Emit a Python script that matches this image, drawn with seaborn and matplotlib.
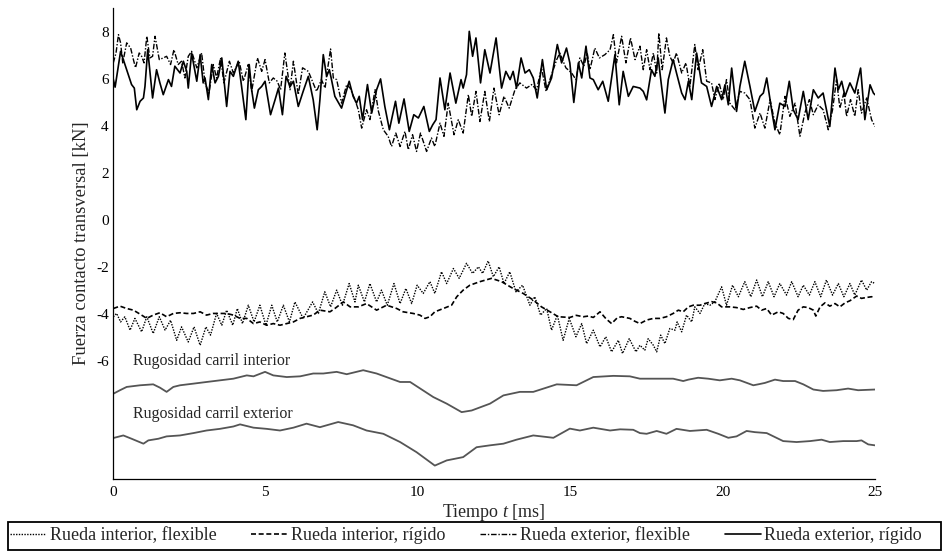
import matplotlib
matplotlib.use("Agg")
import matplotlib.pyplot as plt
from matplotlib.lines import Line2D
from matplotlib.patches import Rectangle
import seaborn as sns

# Each series is a list of (time [ms], force [kN]) samples.

# Outer wheel, rigid model (solid)
ext_rig = [
    (0.00, 6.03), (0.07, 5.64), (0.25, 7.16), (0.45, 6.38), (0.61, 5.75), (0.70, 5.60), (0.78, 4.68),
    (0.89, 5.04), (1.00, 5.18), (1.05, 5.67), (1.14, 7.23), (1.30, 5.18), (1.43, 6.38), (1.54, 5.82),
    (1.65, 5.32), (1.82, 5.96), (1.92, 5.67), (2.03, 6.53), (2.20, 6.24), (2.31, 6.74), (2.42, 6.31),
    (2.47, 5.60), (2.58, 7.09), (2.75, 5.89), (2.86, 7.02), (2.96, 5.82), (3.02, 6.03), (3.13, 5.11),
    (3.24, 6.60), (3.35, 5.82), (3.46, 6.10), (3.57, 6.88), (3.73, 4.82), (3.84, 6.31), (3.95, 6.10),
    (4.11, 6.74), (4.22, 5.67), (4.36, 4.26), (4.47, 6.60), (4.55, 5.53), (4.64, 4.75), (4.77, 5.53),
    (4.88, 5.67), (4.99, 5.89), (5.17, 4.47), (5.32, 5.11), (5.43, 5.60), (5.56, 4.47), (5.68, 6.10),
    (5.81, 5.67), (5.92, 5.89), (6.08, 4.82), (6.24, 5.46), (6.41, 6.10), (6.57, 5.10), (6.70, 3.83),
    (6.79, 5.11), (6.90, 7.02), (7.01, 6.10), (7.10, 6.38), (7.17, 5.96), (7.28, 5.25), (7.50, 4.75),
    (7.61, 5.25), (7.75, 5.89), (7.88, 5.25), (7.99, 4.96), (8.08, 5.25), (8.19, 4.26), (8.35, 5.75),
    (8.49, 4.54), (8.65, 5.53), (8.78, 5.99), (8.92, 4.82), (9.07, 3.83), (9.27, 5.04), (9.38, 4.11),
    (9.55, 5.14), (9.72, 3.76), (9.87, 4.47), (10.02, 4.33), (10.20, 4.82), (10.38, 3.76), (10.49, 4.04),
    (10.60, 4.26), (10.73, 6.03), (10.89, 4.68), (11.06, 6.24), (11.25, 4.96), (11.42, 5.96),
    (11.49, 5.60), (11.60, 6.17), (11.69, 8.01), (11.80, 6.95), (11.91, 7.73), (12.06, 5.82),
    (12.20, 7.23), (12.37, 6.24), (12.57, 7.73), (12.75, 5.60), (12.89, 6.31), (13.03, 5.96),
    (13.13, 6.31), (13.24, 5.60), (13.39, 6.88), (13.52, 6.24), (13.66, 6.38), (13.79, 6.03),
    (13.92, 5.18), (14.09, 6.81), (14.23, 5.53), (14.39, 6.03), (14.58, 7.45), (14.72, 6.67),
    (14.88, 7.30), (14.99, 6.67), (15.12, 4.99), (15.27, 6.67), (15.38, 6.03), (15.52, 7.38),
    (15.65, 6.03), (15.76, 5.96), (15.92, 5.53), (16.07, 5.89), (16.25, 5.04), (16.47, 7.02),
    (16.61, 4.89), (16.74, 6.31), (16.91, 5.25), (17.07, 5.67), (17.29, 5.60), (17.40, 5.46),
    (17.51, 5.10), (17.67, 6.38), (17.78, 6.10), (17.89, 6.88), (18.00, 5.67), (18.11, 4.54),
    (18.22, 5.96), (18.38, 6.81), (18.49, 6.24), (18.66, 5.39), (18.77, 5.11), (18.88, 5.89),
    (18.99, 5.11), (19.15, 7.09), (19.31, 5.82), (19.48, 5.67), (19.64, 4.82), (19.81, 5.67),
    (19.97, 5.11), (20.08, 5.74), (20.19, 4.89), (20.30, 6.45), (20.46, 4.61), (20.57, 5.67),
    (20.73, 6.74), (20.90, 5.67), (21.06, 4.61), (21.23, 5.25), (21.34, 5.39), (21.45, 6.03),
    (21.61, 4.68), (21.72, 3.83), (21.88, 4.96), (22.05, 4.82), (22.19, 5.89), (22.32, 4.68),
    (22.48, 4.26), (22.65, 5.46), (22.81, 4.26), (22.98, 5.53), (23.14, 5.18), (23.30, 5.39),
    (23.41, 4.68), (23.52, 3.97), (23.69, 6.45), (23.80, 5.53), (23.91, 5.89), (24.02, 5.25),
    (24.18, 5.82), (24.34, 5.39), (24.53, 6.45), (24.67, 4.26), (24.84, 5.74), (24.95, 5.39),
    (25.00, 5.32),
]

# Outer wheel, flexible model (dash-dot)
ext_flex = [
    (0.01, 6.67), (0.10, 7.09), (0.18, 7.87), (0.25, 7.52), (0.32, 6.67), (0.45, 7.52), (0.58, 7.30),
    (0.67, 6.81), (0.74, 6.46), (0.86, 7.09), (0.94, 6.95), (1.02, 6.67), (1.11, 7.80), (1.21, 6.88),
    (1.30, 6.95), (1.38, 7.80), (1.52, 6.81), (1.65, 6.88), (1.76, 6.95), (1.89, 6.60), (2.00, 7.23),
    (2.14, 6.60), (2.25, 6.74), (2.36, 6.03), (2.47, 6.95), (2.58, 7.16), (2.75, 6.46), (2.91, 7.09),
    (3.02, 5.82), (3.15, 5.39), (3.29, 6.60), (3.40, 6.03), (3.53, 6.88), (3.64, 5.82), (3.82, 6.74),
    (3.95, 6.24), (4.14, 6.74), (4.28, 5.89), (4.44, 6.60), (4.55, 5.46), (4.74, 6.88), (4.88, 6.31),
    (4.99, 6.81), (5.13, 5.82), (5.26, 6.03), (5.39, 5.89), (5.50, 5.53), (5.64, 7.09), (5.81, 5.53),
    (5.92, 6.74), (6.08, 5.32), (6.22, 6.46), (6.41, 6.31), (6.68, 5.46), (6.84, 5.96), (6.96, 5.60),
    (7.03, 6.31), (7.14, 7.26), (7.23, 6.03), (7.34, 5.96), (7.50, 4.96), (7.67, 5.75), (7.78, 5.60),
    (7.94, 5.11), (8.05, 4.68), (8.16, 3.90), (8.32, 4.68), (8.43, 4.26), (8.60, 5.53), (8.71, 4.61),
    (8.87, 3.83), (9.03, 3.55), (9.14, 3.12), (9.28, 3.69), (9.42, 3.12), (9.58, 3.76), (9.69, 2.98),
    (9.83, 3.62), (9.96, 2.91), (10.09, 3.69), (10.29, 2.91), (10.45, 3.48), (10.56, 3.12),
    (10.73, 4.11), (10.86, 3.55), (11.00, 4.96), (11.19, 3.62), (11.33, 4.26), (11.49, 3.69),
    (11.66, 5.32), (11.77, 4.40), (11.91, 5.46), (12.04, 4.18), (12.20, 5.46), (12.35, 4.18),
    (12.50, 5.60), (12.67, 4.47), (12.83, 5.25), (13.00, 4.75), (13.19, 5.53), (13.35, 5.82),
    (13.57, 5.60), (13.74, 5.75), (13.90, 5.53), (14.06, 6.46), (14.21, 5.46), (14.39, 6.17),
    (14.56, 6.81), (14.66, 7.09), (14.86, 6.46), (15.05, 6.24), (15.19, 5.96), (15.32, 6.88),
    (15.45, 6.53), (15.56, 7.09), (15.65, 6.38), (15.81, 7.30), (15.96, 6.88), (16.14, 7.02),
    (16.31, 7.23), (16.42, 7.87), (16.52, 6.67), (16.69, 7.80), (16.83, 6.67), (16.98, 7.73),
    (17.13, 6.81), (17.29, 7.38), (17.40, 6.38), (17.51, 7.23), (17.62, 6.38), (17.73, 7.09),
    (17.84, 6.24), (17.91, 7.94), (18.02, 6.38), (18.16, 7.73), (18.27, 6.95), (18.38, 6.67),
    (18.49, 7.09), (18.66, 6.24), (18.80, 6.67), (18.93, 5.67), (19.09, 7.45), (19.20, 6.38),
    (19.35, 7.23), (19.48, 5.89), (19.64, 5.82), (19.75, 5.11), (19.89, 5.82), (20.02, 5.11),
    (20.13, 5.96), (20.24, 4.96), (20.41, 4.68), (20.57, 5.46), (20.73, 5.39), (20.90, 5.11),
    (21.06, 3.90), (21.23, 4.54), (21.39, 3.90), (21.56, 5.11), (21.72, 4.11), (21.88, 3.62),
    (22.05, 5.25), (22.21, 4.40), (22.38, 4.96), (22.54, 3.55), (22.70, 4.54), (22.85, 5.11),
    (22.98, 4.47), (23.14, 4.89), (23.30, 4.68), (23.47, 3.83), (23.61, 4.68), (23.74, 5.96),
    (23.85, 4.75), (23.98, 5.39), (24.07, 4.40), (24.20, 5.11), (24.34, 4.40), (24.45, 5.53),
    (24.56, 4.54), (24.73, 5.18), (24.89, 4.26), (25.00, 3.97),
]

# Inner wheel, flexible model (dotted)
int_flex = [
    (0.01, -4.11), (0.12, -3.97), (0.25, -4.33), (0.39, -4.11), (0.56, -4.68), (0.72, -4.18),
    (0.94, -4.75), (1.11, -4.11), (1.32, -4.82), (1.52, -4.11), (1.71, -4.68), (1.89, -4.26),
    (2.09, -5.11), (2.25, -4.54), (2.47, -5.18), (2.66, -4.54), (2.86, -5.32), (3.05, -4.54),
    (3.20, -4.89), (3.40, -3.97), (3.57, -4.47), (3.73, -3.83), (3.93, -4.47), (4.08, -3.76),
    (4.25, -4.40), (4.44, -3.62), (4.63, -4.33), (4.82, -3.62), (5.02, -4.47), (5.21, -3.62),
    (5.39, -4.33), (5.59, -3.62), (5.79, -4.33), (5.97, -3.48), (6.24, -4.18), (6.55, -3.48),
    (6.74, -3.97), (6.95, -3.05), (7.14, -3.69), (7.34, -2.98), (7.53, -3.62), (7.75, -2.70),
    (7.94, -3.48), (8.05, -2.77), (8.25, -3.48), (8.43, -2.70), (8.65, -3.48), (8.81, -2.98),
    (9.00, -3.62), (9.22, -2.70), (9.42, -3.55), (9.61, -2.91), (9.80, -3.55), (9.98, -2.77),
    (10.18, -3.12), (10.40, -2.62), (10.56, -3.12), (10.78, -2.20), (10.95, -2.70), (11.17, -2.06),
    (11.36, -2.48), (11.60, -1.84), (11.80, -2.27), (11.99, -1.99), (12.13, -2.27), (12.31, -1.74),
    (12.48, -2.41), (12.67, -1.99), (12.83, -2.70), (13.02, -2.20), (13.22, -3.05), (13.44, -2.77),
    (13.68, -3.62), (13.84, -3.26), (14.03, -4.04), (14.23, -3.76), (14.39, -4.68), (14.58, -4.04),
    (14.77, -5.11), (14.97, -4.18), (15.19, -4.96), (15.38, -4.40), (15.54, -5.25), (15.76, -4.68),
    (15.98, -5.39), (16.17, -4.96), (16.36, -5.60), (16.58, -5.11), (16.72, -5.67), (16.94, -5.04),
    (17.16, -5.60), (17.29, -5.32), (17.45, -5.53), (17.56, -5.04), (17.73, -5.32), (17.84, -5.60),
    (17.97, -4.89), (18.11, -5.25), (18.27, -4.61), (18.44, -4.68), (18.51, -4.33), (18.66, -4.75),
    (18.82, -4.04), (18.99, -4.33), (19.09, -3.69), (19.26, -3.97), (19.42, -3.55), (19.59, -3.62),
    (19.75, -3.47), (19.97, -2.84), (20.13, -3.62), (20.33, -2.77), (20.52, -3.26), (20.73, -2.62),
    (20.93, -3.26), (21.12, -2.55), (21.31, -3.26), (21.50, -2.62), (21.69, -3.26), (21.88, -2.70),
    (22.10, -3.19), (22.27, -2.62), (22.48, -3.26), (22.65, -2.77), (22.85, -3.19), (23.03, -2.62),
    (23.22, -3.26), (23.41, -2.55), (23.61, -3.19), (23.80, -2.70), (23.98, -3.26), (24.18, -2.70),
    (24.34, -3.19), (24.56, -2.55), (24.73, -2.98), (24.89, -2.62), (25.00, -2.70),
]

# Inner wheel, rigid model (dashed)
int_rig = [
    (0.01, -3.76), (0.23, -3.66), (0.45, -3.76), (0.67, -3.83), (0.89, -4.00), (1.11, -4.18),
    (1.32, -4.04), (1.54, -3.94), (1.76, -4.11), (1.98, -3.97), (2.20, -3.94), (2.42, -3.97),
    (2.64, -3.97), (2.86, -3.90), (3.07, -4.04), (3.29, -3.97), (3.51, -3.97), (3.73, -3.97),
    (3.95, -4.04), (4.17, -4.18), (4.39, -4.18), (4.61, -4.40), (4.82, -4.33), (5.04, -4.47),
    (5.26, -4.40), (5.48, -4.47), (5.70, -4.40), (5.92, -4.33), (6.14, -4.18), (6.35, -4.11),
    (6.57, -4.04), (6.79, -3.83), (7.12, -3.90), (7.28, -3.76), (7.56, -3.48), (7.78, -3.69),
    (8.05, -3.69), (8.32, -3.55), (8.65, -3.83), (8.98, -3.62), (9.31, -3.76), (9.52, -3.90),
    (9.85, -3.97), (10.07, -4.04), (10.24, -4.18), (10.40, -4.11), (10.56, -3.90), (10.84, -3.76),
    (11.11, -3.62), (11.28, -3.26), (11.49, -2.98), (11.71, -2.77), (12.04, -2.62), (12.42, -2.48),
    (12.75, -2.62), (13.13, -2.91), (13.46, -3.12), (13.79, -3.40), (14.06, -3.69), (14.34, -3.90),
    (14.61, -4.11), (14.99, -4.14), (15.20, -4.05), (15.43, -4.11), (15.60, -4.08), (15.76, -4.14),
    (15.98, -3.90), (16.18, -4.20), (16.36, -4.40), (16.55, -4.15), (16.69, -4.11), (16.96, -4.18),
    (17.12, -4.30), (17.29, -4.40), (17.51, -4.25), (17.73, -4.18), (17.95, -4.18), (18.16, -4.11),
    (18.38, -3.97), (18.55, -3.83), (18.71, -3.90), (18.88, -3.69), (19.04, -3.62), (19.26, -3.62),
    (19.42, -3.55), (19.64, -3.47), (19.81, -3.52), (19.97, -3.69), (20.24, -3.69), (20.46, -3.72),
    (20.68, -3.80), (20.90, -3.72), (21.12, -3.66), (21.28, -3.83), (21.45, -3.76), (21.61, -4.04),
    (21.83, -3.90), (21.99, -3.97), (22.16, -4.18), (22.32, -4.23), (22.48, -3.83), (22.65, -3.69),
    (22.81, -3.72), (22.98, -3.83), (23.06, -4.08), (23.20, -3.69), (23.36, -3.52), (23.52, -3.66),
    (23.69, -3.55), (23.85, -3.69), (24.02, -3.52), (24.18, -3.43), (24.40, -3.23), (24.56, -3.33),
    (24.73, -3.29), (24.89, -3.26), (25.00, -3.29),
]

# Rail roughness profiles, drawn with a vertical offset
rug_int = [
    (0.01, -7.38), (0.23, -7.23), (0.45, -7.09), (0.89, -7.02), (1.32, -6.98), (1.54, -7.12),
    (1.76, -7.30), (1.98, -7.09), (2.20, -7.02), (2.64, -6.95), (3.07, -6.88), (3.51, -6.81),
    (3.95, -6.74), (4.39, -6.60), (4.61, -6.64), (4.99, -6.45), (5.26, -6.60), (5.70, -6.67),
    (6.14, -6.64), (6.57, -6.52), (6.90, -6.52), (7.34, -6.45), (7.67, -6.55), (8.21, -6.38),
    (8.65, -6.52), (9.42, -6.88), (9.75, -6.88), (10.51, -7.52), (10.95, -7.80), (11.44, -8.16),
    (11.77, -8.09), (12.37, -7.80), (12.81, -7.45), (13.35, -7.30), (13.79, -7.30), (14.56, -6.98),
    (15.21, -7.02), (15.76, -6.67), (16.42, -6.62), (16.96, -6.64), (17.29, -6.74), (17.62, -6.74),
    (18.00, -6.74), (18.38, -6.74), (18.71, -6.84), (18.88, -6.78), (19.20, -6.70), (19.53, -6.74),
    (19.91, -6.81), (20.30, -6.74), (20.57, -6.81), (21.01, -7.02), (21.17, -6.98), (21.39, -6.92),
    (21.72, -6.78), (21.99, -6.84), (22.38, -6.84), (22.65, -6.98), (22.98, -7.20), (23.30, -7.26),
    (23.74, -7.23), (24.12, -7.16), (24.45, -7.23), (25.00, -7.20),
]
rug_ext = [
    (0.01, -9.26), (0.34, -9.15), (0.61, -9.29), (1.00, -9.50), (1.16, -9.36), (1.49, -9.29),
    (1.76, -9.19), (2.20, -9.15), (2.64, -9.05), (3.07, -8.94), (3.51, -8.87), (3.95, -8.77),
    (4.17, -8.68), (4.61, -8.82), (5.04, -8.87), (5.48, -8.94), (5.92, -8.82), (6.35, -8.65),
    (6.79, -8.80), (7.39, -8.58), (7.88, -8.72), (8.32, -8.94), (8.87, -9.08), (9.42, -9.43),
    (9.96, -9.86), (10.56, -10.43), (10.95, -10.21), (11.49, -10.07), (11.93, -9.65), (12.37, -9.57),
    (12.81, -9.50), (13.24, -9.33), (13.79, -9.15), (14.45, -9.25), (14.99, -8.86), (15.32, -8.94),
    (15.76, -8.82), (16.31, -8.94), (16.64, -8.89), (17.07, -8.91), (17.29, -9.05), (17.51, -9.08),
    (17.84, -8.96), (18.16, -9.08), (18.49, -8.87), (18.93, -8.96), (19.48, -8.91), (19.86, -9.08),
    (20.19, -9.25), (20.46, -9.19), (20.79, -8.96), (21.06, -9.01), (21.45, -9.05), (21.72, -9.22),
    (21.99, -9.39), (22.43, -9.43), (22.87, -9.39), (23.25, -9.33), (23.52, -9.43), (23.96, -9.39),
    (24.40, -9.39), (24.56, -9.36), (24.78, -9.53), (25.00, -9.57),
]

series_labels = ["Rueda interior, flexible", "Rueda interior, rígido",
                 "Rueda exterior, flexible", "Rueda exterior, rígido"]
y_ticks = [-6, -4, -2, 0, 2, 4, 6, 8]
x_ticks = [0, 5, 10, 15, 20, 25]

sns.set_theme(style="white")
plt.rcParams["font.family"] = ["Liberation Serif", "DejaVu Serif"]
plt.rcParams["axes.unicode_minus"] = False
plt.rcParams["mathtext.fontset"] = "custom"
plt.rcParams["mathtext.rm"] = "Liberation Serif"
plt.rcParams["mathtext.it"] = "Liberation Serif:italic"

W, H = 943, 553
fig = plt.figure(figsize=(W / 100, H / 100), dpi=100)
ax = fig.add_axes([0.1198, 0.1338, 0.808, 0.8517])

ink = "black"
rough = "#555555"

styles = {
    "int_flex": dict(color=ink, lw=1.0, dashes=(1.0, 1.0)),
    "int_rig": dict(color=ink, lw=1.2, dashes=(3.0, 1.6)),
    "ext_flex": dict(color=ink, lw=1.0, dashes=(4.0, 1.3, 1.0, 1.3)),
    "ext_rig": dict(color=ink, lw=1.2, dashes=None),
    "rough": dict(color=rough, lw=1.3, dashes=None),
}


def draw(samples, key):
    st = styles[key]
    t = [p[0] for p in samples]
    v = [p[1] for p in samples]
    sns.lineplot(x=t, y=v, ax=ax, color=st["color"], lw=st["lw"],
                 estimator=None, sort=False)
    line = ax.lines[-1]
    if st["dashes"] is not None:
        line.set_dashes(st["dashes"])
    return line


draw(rug_int, "rough")
draw(rug_ext, "rough")
draw(int_rig, "int_rig")
draw(int_flex, "int_flex")
draw(ext_flex, "ext_flex")
draw(ext_rig, "ext_rig")

ax.text(0.65, -6.0, "Rugosidad carril interior", fontsize=11.5, va="center", ha="left")
ax.text(0.65, -8.25, "Rugosidad carril exterior", fontsize=11.5, va="center", ha="left")

ax.set_xlim(0, 25)
ax.set_ylim(-11, 9)
ax.set_xticks(x_ticks)
ax.set_xticklabels([str(v) for v in x_ticks])
ax.set_yticks(y_ticks)
ax.set_yticklabels([str(v) for v in y_ticks])
ax.tick_params(direction="in", length=5.5, width=0.9, labelsize=11, colors="black", pad=3)
ax.tick_params(axis="x", pad=5)
for side in ("top", "right"):
    ax.spines[side].set_visible(False)
for side in ("left", "bottom"):
    ax.spines[side].set_color("black")
    ax.spines[side].set_linewidth(0.9)

ax.set_xlabel("Tiempo $t$ [ms]", fontsize=13, labelpad=2)
ax.set_ylabel("Fuerza contacto transversal [kN]", fontsize=13.4)
ax.yaxis.set_label_coords(-0.030, 0.5)

handles = []
for key in ["int_flex", "int_rig", "ext_flex", "ext_rig"]:
    st = styles[key]
    h = Line2D([0], [0], color=st["color"], lw=st["lw"])
    if st["dashes"] is not None:
        h.set_dashes(st["dashes"])
    handles.append(h)

# Legend entries spread across the bottom, inside a full-width box
box_x0, box_x1, box_top, box_bot = 8, 941, 522, 550
fig.legend(handles, series_labels, loc="center left", ncol=4, mode="expand",
           bbox_to_anchor=(10 / W, 1 - box_bot / H, (922 - 10) / W, (box_bot - box_top) / H),
           fontsize=13, frameon=False, handlelength=2.0, handletextpad=0.2,
           borderpad=0.0, borderaxespad=0.0)
fig.patches.append(Rectangle((box_x0 / W, 1 - box_bot / H), (box_x1 - box_x0) / W,
                             (box_bot - box_top) / H, transform=fig.transFigure,
                             fill=False, edgecolor="black", linewidth=1.3))

fig.savefig("out.png", dpi=100)
